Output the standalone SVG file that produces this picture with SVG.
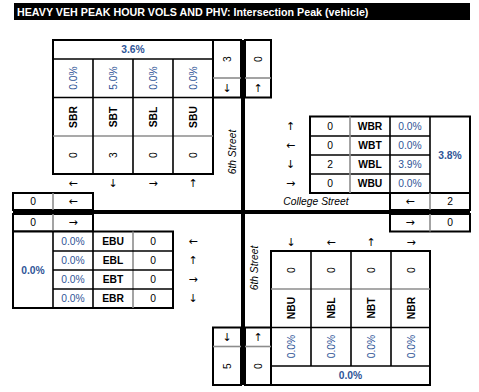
<svg xmlns="http://www.w3.org/2000/svg" width="479" height="392" viewBox="0 0 479 392">
<style>
text{font-family:"Liberation Sans",Arial,sans-serif;font-size:10.3px;fill:#000;text-anchor:middle;dominant-baseline:central}
.a{font-family:"DejaVu Sans",sans-serif;font-size:11px}
.b{font-weight:bold}
.p{fill:#2F5597}
.pb{fill:#2F5597;font-weight:bold}
.i{font-style:italic}
.box{fill:#fff;stroke:#000;stroke-width:2}
.k{stroke:#000;stroke-width:1.6}
.g{stroke:#8C8C8C;stroke-width:1.6}
.ttl{fill:#fff;font-weight:bold;font-size:10.7px;text-anchor:start}
</style>
<rect width="479" height="392" fill="#fff"/>
<g id="title">
<rect x="14" y="3" width="456" height="17" fill="#000"/>
<text class="ttl" x="17" y="11.8">HEAVY VEH PEAK HOUR VOLS AND PHV: Intersection Peak (vehicle)</text>
</g>
<g id="connectors">
<rect x="241" y="40" width="4" height="345" fill="#000"/>
<rect x="13" y="210" width="457" height="4" fill="#000"/>
</g>
<g id="sb-table">
<rect class="box" x="53" y="40" width="160" height="134"/>
<line class="k" x1="53" y1="59" x2="213" y2="59"/>
<line class="k" x1="53" y1="97.5" x2="213" y2="97.5"/>
<line class="g" x1="53" y1="136" x2="213" y2="136"/>
<line class="k" x1="93" y1="59" x2="93" y2="174"/>
<line class="k" x1="133" y1="59" x2="133" y2="174"/>
<line class="k" x1="173" y1="59" x2="173" y2="174"/>
<text class="pb" x="133" y="49.5">3.6%</text>
<text class="p" transform="rotate(-90 73 78)" x="73" y="78">0.0%</text>
<text class="p" transform="rotate(-90 113 78)" x="113" y="78">5.0%</text>
<text class="p" transform="rotate(-90 153 78)" x="153" y="78">0.0%</text>
<text class="p" transform="rotate(-90 193 78)" x="193" y="78">0.0%</text>
<text class="b" transform="rotate(-90 73 117)" x="73" y="117">SBR</text>
<text class="b" transform="rotate(-90 113 117)" x="113" y="117">SBT</text>
<text class="b" transform="rotate(-90 153 117)" x="153" y="117">SBL</text>
<text class="b" transform="rotate(-90 193 117)" x="193" y="117">SBU</text>
<text transform="rotate(-90 73 155)" x="73" y="155">0</text>
<text transform="rotate(-90 113 155)" x="113" y="155">3</text>
<text transform="rotate(-90 153 155)" x="153" y="155">0</text>
<text transform="rotate(-90 193 155)" x="193" y="155">0</text>
<text class="a" x="73" y="183.5">←</text>
<text class="a" x="113" y="183.5">↓</text>
<text class="a" x="153" y="183.5">→</text>
<text class="a" x="193" y="183.5">↑</text>
</g>
<g id="sb-approach">
<rect class="box" x="213" y="40" width="28" height="57.5"/>
<line class="g" x1="213" y1="78" x2="241" y2="78"/>
<text transform="rotate(-90 227 59)" x="227" y="59">3</text>
<text class="a" x="227" y="88">↓</text>
<rect class="box" x="245" y="40" width="26" height="57.5"/>
<line class="g" x1="245" y1="78" x2="271" y2="78"/>
<text transform="rotate(-90 258 59)" x="258" y="59">0</text>
<text class="a" x="258" y="88">↑</text>
</g>
<g id="street-6th-north">
<text class="i" transform="rotate(-90 232 152)" x="232" y="152">6th Street</text>
</g>
<g id="wb-table">
<rect class="box" x="310" y="116.5" width="160" height="76.5"/>
<line class="k" x1="310" y1="136" x2="430" y2="136"/>
<line class="k" x1="310" y1="155" x2="430" y2="155"/>
<line class="k" x1="310" y1="174" x2="430" y2="174"/>
<line class="g" x1="350" y1="116.5" x2="350" y2="193"/>
<line class="k" x1="390" y1="116.5" x2="390" y2="193"/>
<line class="k" x1="430" y1="116.5" x2="430" y2="193"/>
<text x="330" y="126.5">0</text><text class="b" x="370" y="126.5">WBR</text><text class="p" x="410" y="126.5">0.0%</text>
<text x="330" y="145.5">0</text><text class="b" x="370" y="145.5">WBT</text><text class="p" x="410" y="145.5">0.0%</text>
<text x="330" y="164.5">2</text><text class="b" x="370" y="164.5">WBL</text><text class="p" x="410" y="164.5">3.9%</text>
<text x="330" y="183.5">0</text><text class="b" x="370" y="183.5">WBU</text><text class="p" x="410" y="183.5">0.0%</text>
<text class="pb" x="450" y="155">3.8%</text>
<text class="a" x="290.5" y="126.5">↑</text>
<text class="a" x="290.5" y="145.5">←</text>
<text class="a" x="290.5" y="164.5">↓</text>
<text class="a" x="290.5" y="183.5">→</text>
</g>
<g id="street-college">
<text class="i" x="316" y="201.5">College Street</text>
</g>
<g id="wb-approach">
<rect class="box" x="390" y="193" width="80" height="17"/>
<line class="g" x1="430" y1="193" x2="430" y2="210"/>
<text class="a" x="410" y="201.5">←</text>
<text x="450" y="201.5">2</text>
<rect class="box" x="390" y="214" width="80" height="17.5"/>
<line class="g" x1="430" y1="214" x2="430" y2="231.5"/>
<text class="a" x="410" y="222.7">→</text>
<text x="450" y="222.7">0</text>
</g>
<g id="eb-approach">
<rect class="box" x="13" y="193" width="80" height="17"/>
<line class="g" x1="53" y1="193" x2="53" y2="210"/>
<text x="33" y="201.5">0</text>
<text class="a" x="73" y="201.5">←</text>
<rect class="box" x="13" y="214" width="80" height="17.5"/>
<line class="g" x1="53" y1="214" x2="53" y2="231.5"/>
<text x="33" y="222.7">0</text>
<text class="a" x="73" y="222.7">→</text>
</g>
<g id="eb-table">
<rect class="box" x="13" y="231.5" width="160" height="76.5"/>
<line class="k" x1="53" y1="231.5" x2="53" y2="308"/>
<line class="k" x1="93" y1="231.5" x2="93" y2="308"/>
<line class="g" x1="133" y1="231.5" x2="133" y2="308"/>
<line class="k" x1="53" y1="251" x2="173" y2="251"/>
<line class="k" x1="53" y1="270" x2="173" y2="270"/>
<line class="k" x1="53" y1="289" x2="173" y2="289"/>
<text class="pb" x="33" y="270">0.0%</text>
<text class="p" x="73" y="241">0.0%</text><text class="b" x="113" y="241">EBU</text><text x="153" y="241">0</text>
<text class="p" x="73" y="260.5">0.0%</text><text class="b" x="113" y="260.5">EBL</text><text x="153" y="260.5">0</text>
<text class="p" x="73" y="279.5">0.0%</text><text class="b" x="113" y="279.5">EBT</text><text x="153" y="279.5">0</text>
<text class="p" x="73" y="298.5">0.0%</text><text class="b" x="113" y="298.5">EBR</text><text x="153" y="298.5">0</text>
<text class="a" x="193" y="241">←</text>
<text class="a" x="193" y="260.5">↑</text>
<text class="a" x="193" y="279.5">→</text>
<text class="a" x="193" y="298.5">↓</text>
</g>
<g id="street-6th-south">
<text class="i" transform="rotate(-90 254 268)" x="254" y="268">6th Street</text>
</g>
<g id="nb-table">
<rect class="box" x="271" y="251" width="159" height="134"/>
<line class="g" x1="271" y1="289" x2="430" y2="289"/>
<line class="k" x1="271" y1="327.5" x2="430" y2="327.5"/>
<line class="k" x1="271" y1="366" x2="430" y2="366"/>
<line class="k" x1="311" y1="251" x2="311" y2="366"/>
<line class="k" x1="351" y1="251" x2="351" y2="366"/>
<line class="k" x1="391" y1="251" x2="391" y2="366"/>
<text transform="rotate(-90 291 270)" x="291" y="270">0</text>
<text transform="rotate(-90 331 270)" x="331" y="270">0</text>
<text transform="rotate(-90 371 270)" x="371" y="270">0</text>
<text transform="rotate(-90 411 270)" x="411" y="270">0</text>
<text class="b" transform="rotate(-90 291 308)" x="291" y="308">NBU</text>
<text class="b" transform="rotate(-90 331 308)" x="331" y="308">NBL</text>
<text class="b" transform="rotate(-90 371 308)" x="371" y="308">NBT</text>
<text class="b" transform="rotate(-90 411 308)" x="411" y="308">NBR</text>
<text class="p" transform="rotate(-90 291 346.5)" x="291" y="346.5">0.0%</text>
<text class="p" transform="rotate(-90 331 346.5)" x="331" y="346.5">0.0%</text>
<text class="p" transform="rotate(-90 371 346.5)" x="371" y="346.5">0.0%</text>
<text class="p" transform="rotate(-90 411 346.5)" x="411" y="346.5">0.0%</text>
<text class="pb" x="350.5" y="375.5">0.0%</text>
<text class="a" x="291" y="242">↓</text>
<text class="a" x="331" y="242">←</text>
<text class="a" x="371" y="242">↑</text>
<text class="a" x="411" y="242">→</text>
</g>
<g id="nb-approach">
<rect class="box" x="213" y="327.5" width="28" height="57.5"/>
<line class="g" x1="213" y1="346.5" x2="241" y2="346.5"/>
<text class="a" x="227" y="337">↓</text>
<text transform="rotate(-90 227 366)" x="227" y="366">5</text>
<rect class="box" x="245" y="327.5" width="26" height="57.5"/>
<line class="g" x1="245" y1="346.5" x2="271" y2="346.5"/>
<text class="a" x="258" y="337">↑</text>
<text transform="rotate(-90 258 366)" x="258" y="366">0</text>
</g>
</svg>
